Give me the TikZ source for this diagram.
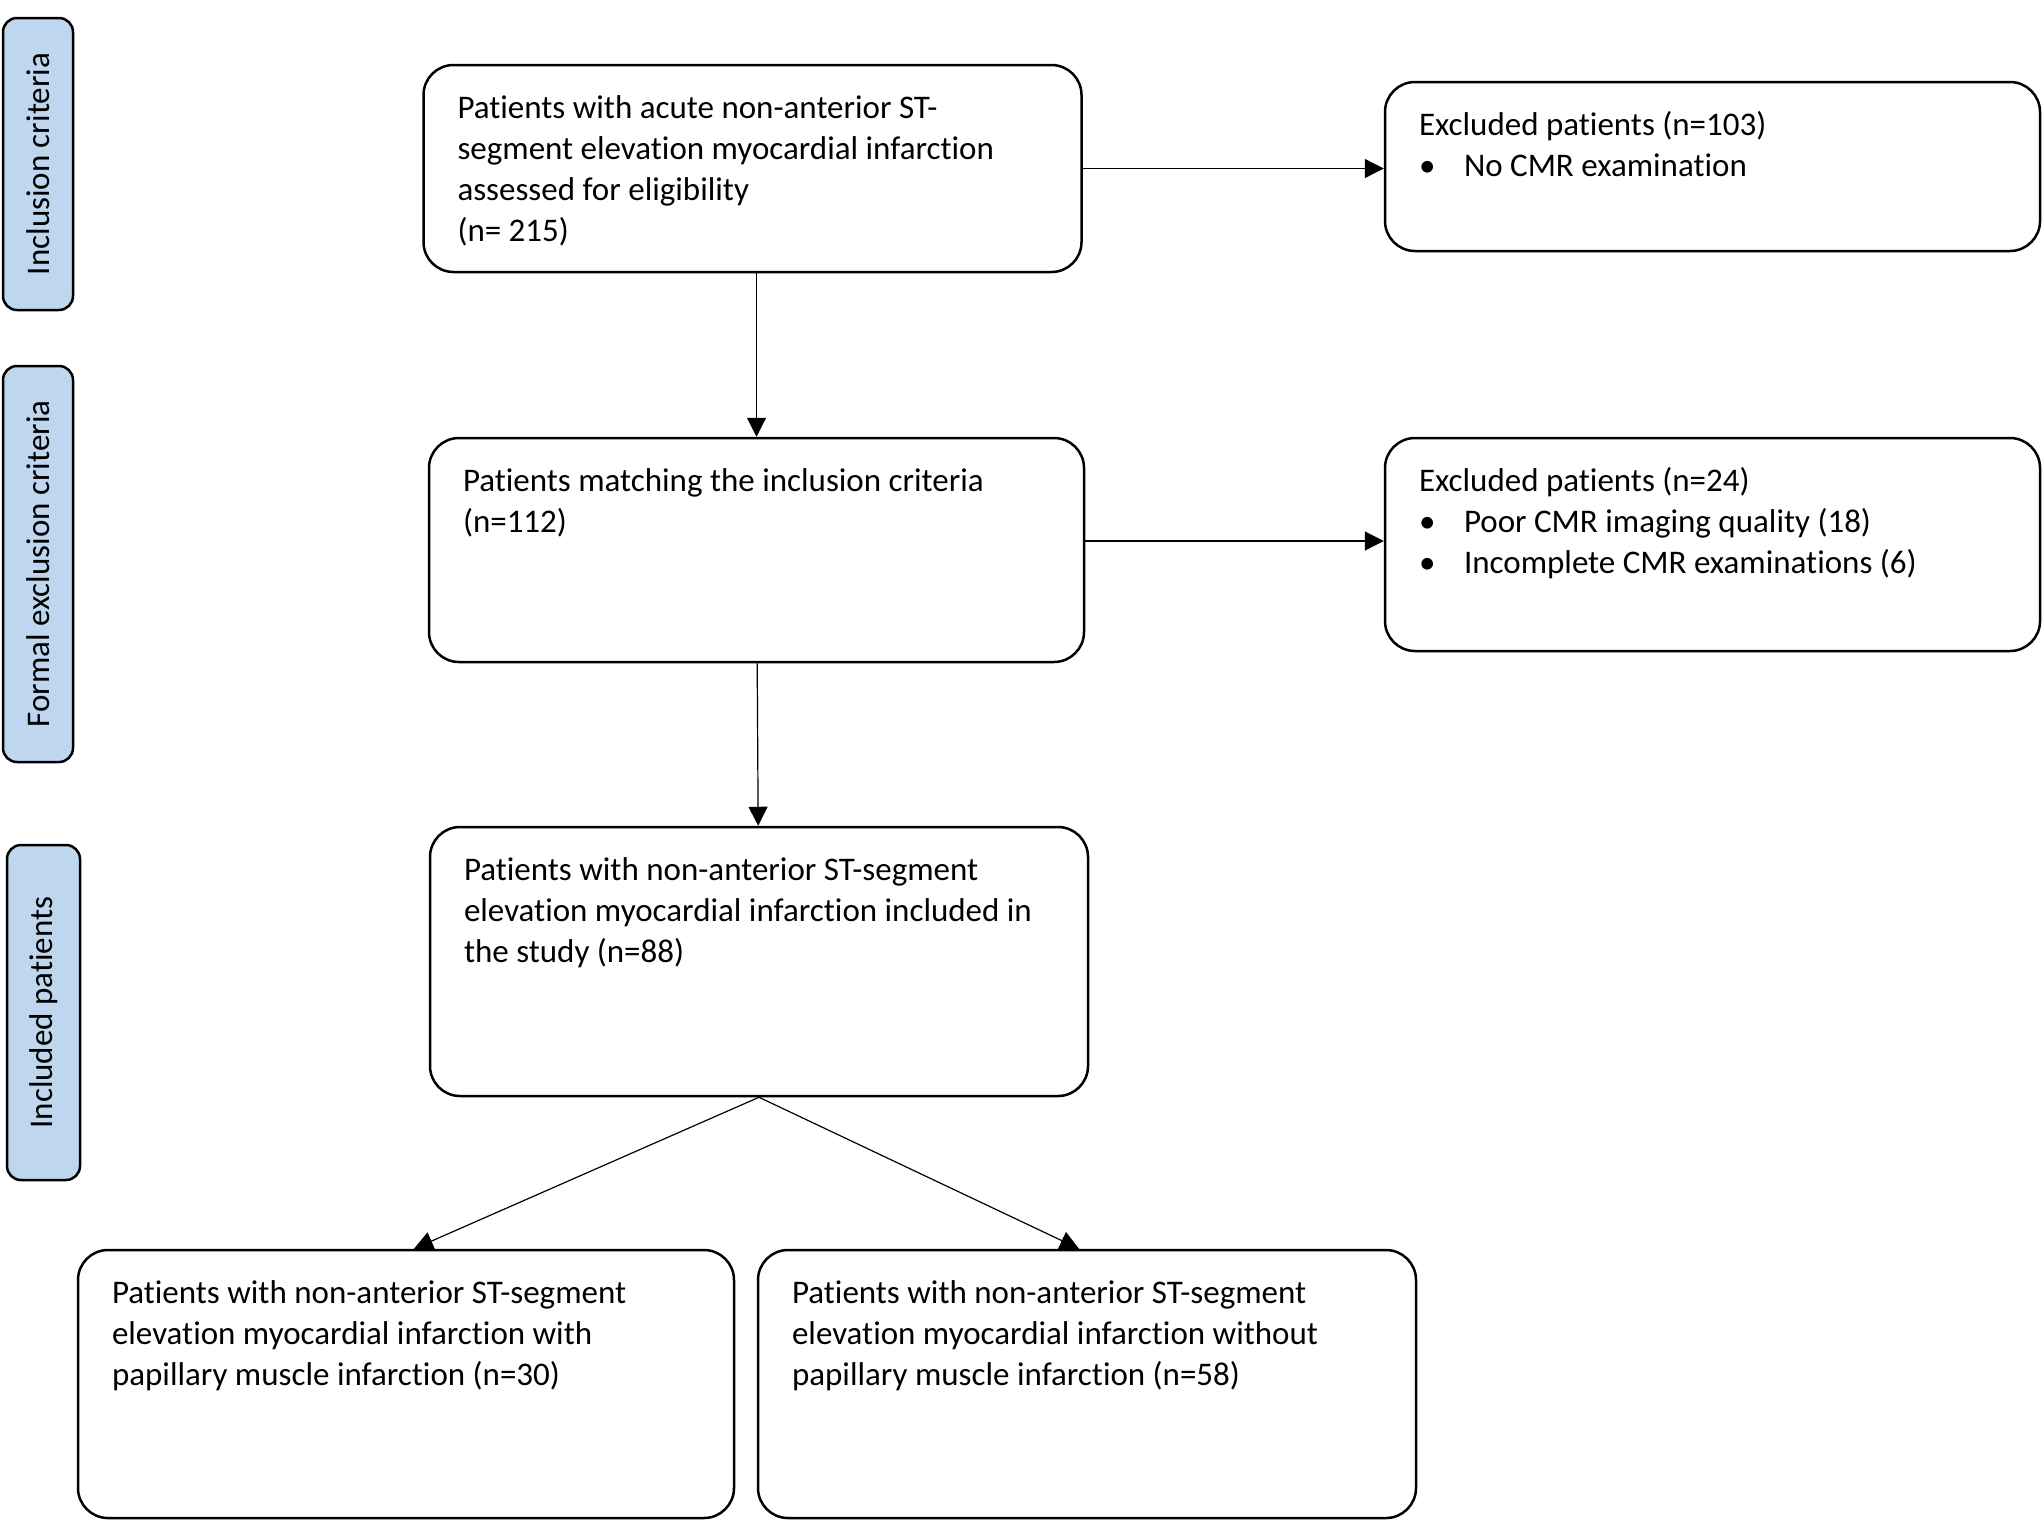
\documentclass[tikz,border=0pt]{standalone}
\usepackage{fontspec}
\setmainfont{Carlito}[Ligatures=NoCommon]
\usetikzlibrary{arrows.meta,positioning}
\definecolor{sideblue}{RGB}{190,215,238}
\newcommand{\boxlines}[3]{\parbox[c][#2][t]{#1}{\raggedright\rule{0pt}{26.5pt}#3}}
\newcommand{\bul}{\makebox[22.5pt][l]{\textbullet}}

\begin{document}
\begin{tikzpicture}[x=0.5pt,y=-0.5pt,>={Triangle[length=9.5pt,width=9.5pt]},
    font=\fontsize{16.5}{20.6}\selectfont,
    block/.style={draw,line width=1.25pt,rounded corners=15pt,inner xsep=17pt,inner ysep=0pt},
    side/.style={draw,line width=1.25pt,fill=sideblue,rounded corners=7pt,rotate=90,inner sep=0pt},
    link/.style={->,line width=0.6pt}]
    \useasboundingbox (0,0) rectangle (2043,1521);

    % stage labels
    \node[side,minimum width=146pt,minimum height=35pt] (incl) at (38,164)    {Inclusion criteria};
    \node[side,minimum width=198pt,minimum height=35pt] (excl) at (38,564)    {Formal exclusion criteria};
    \node[side,minimum width=167.5pt,minimum height=36.5pt] (pats) at (43.5,1012.5) {Included patients};

    % main flow
    \node[block] (A) at (752.5,168.5) {\boxlines{295pt}{103.5pt}{Patients with acute non-anterior ST-\\segment elevation myocardial infarction\\assessed for eligibility\\(n= 215)}};
    \node[block] (B) at (756.5,550)   {\boxlines{293.5pt}{112pt}{Patients matching the inclusion criteria\\(n=112)}};
    \node[block] (C) at (759,961.5)   {\boxlines{295pt}{134.5pt}{Patients with non-anterior ST-segment\\elevation myocardial infarction included in\\the study (n=88)}};
    \node[block] (D) at (406,1384)    {\boxlines{294pt}{134pt}{Patients with non-anterior ST-segment\\elevation myocardial infarction with\\papillary muscle infarction (n=30)}};
    \node[block] (E) at (1087,1384)   {\boxlines{295pt}{134pt}{Patients with non-anterior ST-segment\\elevation myocardial infarction without\\papillary muscle infarction (n=58)}};

    % excluded
    \node[block] (X1) at (1712.5,166.5) {\boxlines{293.5pt}{84.5pt}{Excluded patients (n=103)\\\bul No CMR examination}};
    \node[block] (X2) at (1712.5,544.5) {\boxlines{293.5pt}{106.5pt}{Excluded patients (n=24)\\\bul Poor CMR imaging quality (18)\\\bul Incomplete CMR examinations (6)}};

    \path[link] (A.south -| B.north) edge (B)
                (B) edge (C)
                (A.east) edge (A.east -| X1.west)
                ([yshift=4.5pt]B.east) edge ([yshift=4.5pt]B.east -| X2.west)
                (C.south) edge ([xshift=4pt]D.north)
                (C.south) edge ([xshift=-4pt]E.north);
\end{tikzpicture}
\end{document}
